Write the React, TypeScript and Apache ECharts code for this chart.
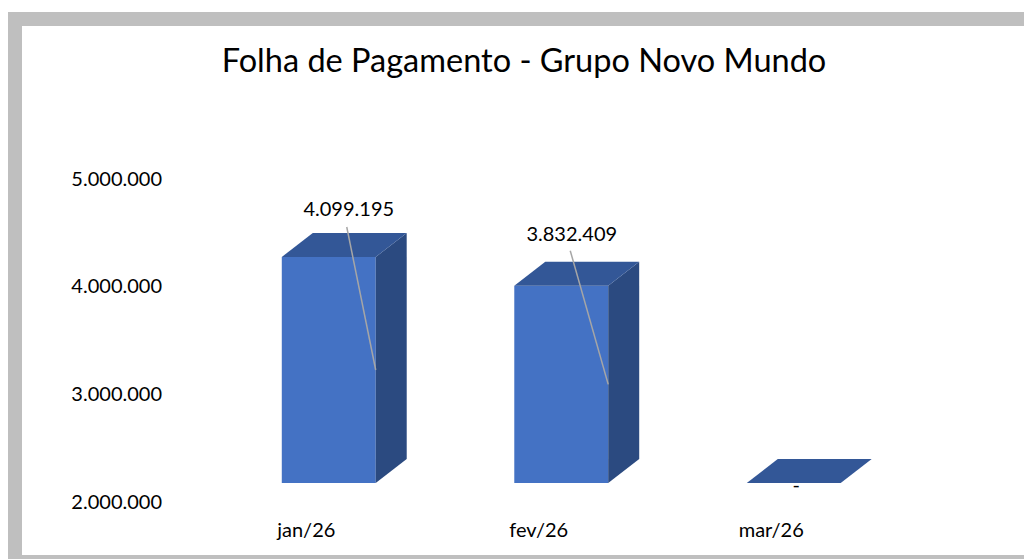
import React, { useEffect, useRef } from "react";
import * as echarts from "echarts";

const TITLE = "Folha de Pagamento - Grupo Novo Mundo";
const categories = ["jan/26", "fev/26", "mar/26"];
const payroll = [4099195, 3832409, 0];
const payrollLabels = ["4.099.195", "3.832.409", "-"];
const axisMin = 2000000;
const axisMax = 5000000;
const axisStep = 1000000;

const FONT = "Lato, Carlito, sans-serif";
const DEPTH_X = 31;
const DEPTH_Y = -24;
const LABEL_OFFSETS = [
  { x: 20, y: -49, lx: 18, ly: -30 },
  { x: 10.5, y: -53, lx: 9, ly: -35 },
  { x: 2.5, y: 0.5, lx: 0, ly: 0 },
];

const fmt = (v: number) => String(v).replace(/\B(?=(\d{3})+(?!\d))/g, ".");

export default function App() {
  const ref = useRef<HTMLDivElement>(null);
  useEffect(() => {
    const chart = echarts.init(ref.current!, undefined, { renderer: "svg" });
    chart.setOption({
      animation: false,
      backgroundColor: "#ffffff",
      title: {
        text: TITLE,
        left: 519,
        top: 38,
        textAlign: "center",
        textStyle: { fontFamily: FONT, fontSize: 32.5, fontWeight: "normal", color: "#000000" },
      },
      graphic: [
        { type: "rect", shape: { x: 8, y: 12, width: 1016, height: 14 }, style: { fill: "#bfbfbf" } },
        { type: "rect", shape: { x: 8, y: 12, width: 14, height: 547 }, style: { fill: "#bfbfbf" } },
        { type: "rect", shape: { x: 8, y: 555, width: 1016, height: 4 }, style: { fill: "#bfbfbf" } },
      ],
      grid: [
        { left: 190, width: 697.5, top: 177.5, bottom: 58.5 },
        { left: 212.5, width: 697.5, top: 160, bottom: 76 },
      ],
      xAxis: [
        {
          gridIndex: 0,
          type: "category",
          data: categories,
          axisLine: { show: false },
          axisTick: { show: false },
          axisLabel: { margin: 18.5, fontFamily: FONT, fontSize: 20, color: "#000000" },
        },
        { gridIndex: 1, type: "category", data: categories, show: false },
      ],
      yAxis: [
        {
          gridIndex: 0,
          type: "value",
          min: axisMin,
          max: axisMax,
          interval: axisStep,
          axisLine: { show: false },
          axisTick: { show: false },
          splitLine: { show: false },
          axisLabel: { margin: 28, fontFamily: FONT, fontSize: 20, color: "#000000", formatter: fmt },
        },
        { gridIndex: 1, type: "value", min: axisMin, max: axisMax, interval: axisStep, show: false },
      ],
      series: [
        {
          type: "custom",
          xAxisIndex: 1,
          yAxisIndex: 1,
          clip: false,
          data: payroll.map((v, i) => [i, v]),
          renderItem: (params: any, api: any) => {
            const i = api.value(0);
            const v = Math.max(api.value(1), axisMin);
            const [cx, top] = api.coord([i, v]);
            const [, base] = api.coord([i, axisMin]);
            const half = (api.size([1, 0])[0] * 0.404) / 2;
            const l = cx - half;
            const r = cx + half;
            const off = LABEL_OFFSETS[params.dataIndex];
            const children: any[] = [];
            if (base - top > 0) {
              children.push(
                { type: "rect", shape: { x: l, y: top, width: r - l, height: base - top }, style: { fill: "#4472c4" } },
                {
                  type: "polygon",
                  shape: { points: [[r, top], [r + DEPTH_X, top + DEPTH_Y], [r + DEPTH_X, base + DEPTH_Y], [r, base]] },
                  style: { fill: "#2b4a80" },
                },
              );
            }
            children.push({
              type: "polygon",
              shape: { points: [[l, top], [l + DEPTH_X, top + DEPTH_Y], [r + DEPTH_X, top + DEPTH_Y], [r, top]] },
              style: { fill: "#335797" },
            });
            if (base - top > 0) {
              children.push({
                type: "line",
                shape: { x1: cx + off.lx, y1: top + off.ly, x2: r, y2: (top + base) / 2 },
                style: { stroke: "#a6a6a6", lineWidth: 1.5 },
              });
            }
            children.push({
              type: "text",
              x: cx + off.x,
              y: top + off.y,
              style: {
                text: payrollLabels[params.dataIndex],
                fontFamily: FONT,
                fontSize: 20,
                fill: "#000000",
                align: "center",
                verticalAlign: "middle",
              },
            });
            return { type: "group", children };
          },
        },
      ],
    });
    return () => chart.dispose();
  }, []);
  return <div ref={ref} style={{ position: "absolute", left: 0, top: 0, width: 1024, height: 559 }} />;
}
